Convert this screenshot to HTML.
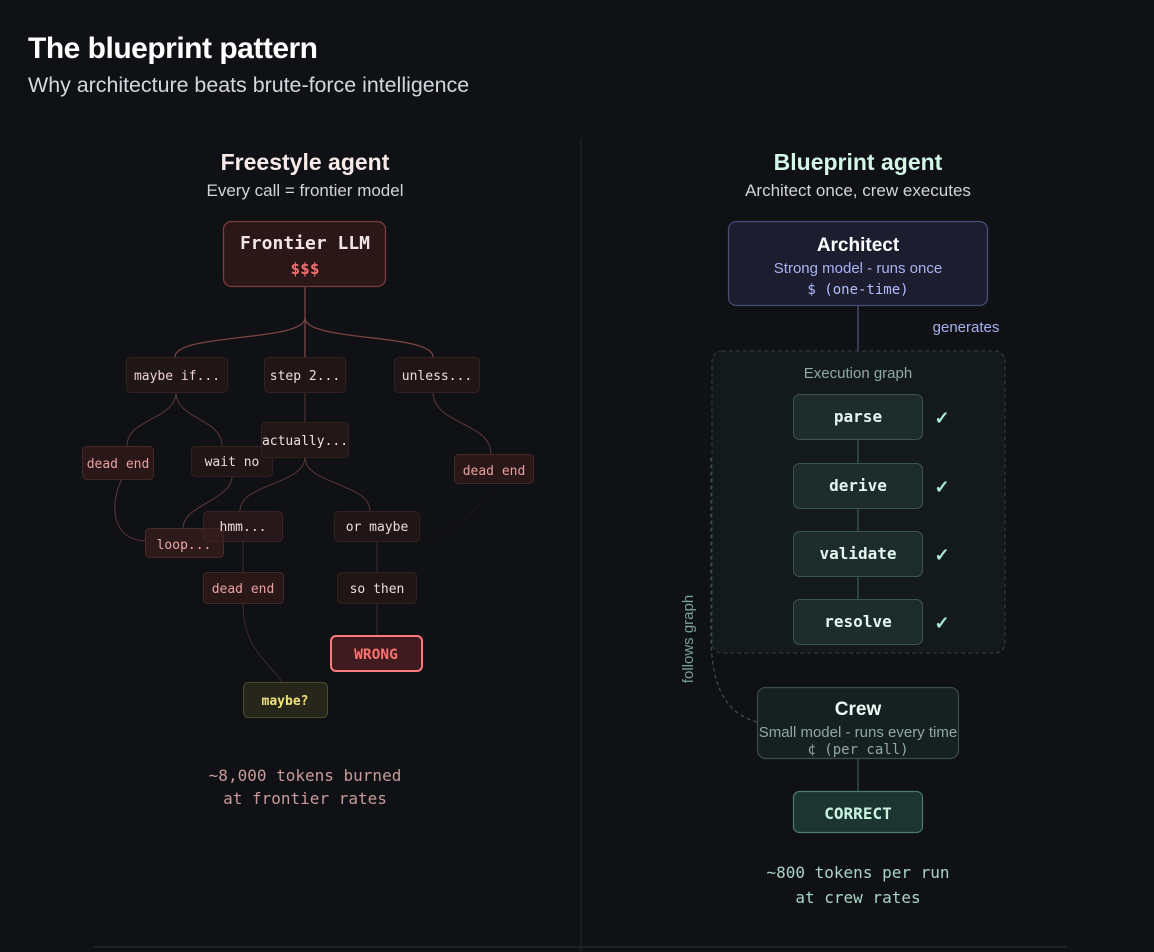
<!DOCTYPE html>
<html><head><meta charset="utf-8"><style>
html,body{margin:0;padding:0;background:#0f1115;}
svg{display:block;}
.sans{font-family:"Liberation Sans",sans-serif;}
.mono{font-family:"DejaVu Sans Mono","Liberation Mono",monospace;}
</style></head><body>
<svg width="1154" height="952" viewBox="0 0 1154 952" xmlns="http://www.w3.org/2000/svg">
<rect width="1154" height="952" fill="#0f1115"/>
<!-- header -->
<text x="28" y="58" class="sans" font-size="30" font-weight="bold" fill="#ffffff" letter-spacing="-0.5">The blueprint pattern</text>
<text x="28" y="92" class="sans" font-size="21.4" fill="#d4d8de">Why architecture beats brute-force intelligence</text>

<!-- divider -->
<line x1="581" y1="138" x2="581" y2="952" stroke="#24272d" stroke-width="1"/>
<line x1="94" y1="947" x2="1067" y2="947" stroke="#1e2126" stroke-width="2"/>

<!-- LEFT COLUMN -->
<text x="305" y="170" text-anchor="middle" class="sans" font-size="23" font-weight="bold" fill="#fbeaea">Freestyle agent</text>
<text x="305" y="196" text-anchor="middle" class="sans" font-size="17" fill="#d0d4da">Every call = frontier model</text>

<!-- connectors -->
<g fill="none" stroke="#7a4444" stroke-width="1.3">
<path d="M305,287 L305,357"/>
<path d="M305,318 C305,342 175,333 175,357"/>
<path d="M305,318 C305,342 433,333 433,357"/>
</g>
<g fill="none" stroke="#553535" stroke-width="1.1">
<path d="M176,392 C176,420 127,418 127,446"/>
<path d="M176,392 C176,420 222,418 222,446"/>
<path d="M305,392 L305,422"/>
<path d="M433,392 C433,425 491,422 491,454"/>
<path d="M305,457 C305,485 240,483 240,511"/>
<path d="M305,457 C305,485 370,483 370,511"/>
<path d="M122,479 C110,502 110,540 146,541"/>
<path d="M232,476 C232,500 183,505 183,528"/>
</g>
<g fill="none" stroke="#3e2c2c" stroke-width="1">
<path d="M243,541 L243,572"/>
<path d="M243,603 C243,650 268,660 282,682"/>
<path d="M377,541 L377,572"/>
<path d="M377,603 L377,635"/>
<path d="M490,493 C470,518 447,536 420,540" stroke="#201d20" stroke-dasharray="2 3"/>
</g>

<!-- Frontier LLM box -->
<rect x="223.5" y="221.5" width="162" height="65" rx="8" fill="#2b1718" stroke="#7a3c3c" stroke-width="1.3"/>
<text x="305" y="249" text-anchor="middle" class="mono" font-size="18" font-weight="bold" fill="#f0e4e4">Frontier LLM</text>
<text x="305" y="274" text-anchor="middle" class="mono" font-size="16" font-weight="bold" fill="#f26d6d">$$$</text>

<!-- small boxes -->
<g class="mono" font-size="13" text-anchor="middle">
<rect x="126.5" y="357.5" width="101" height="35" rx="4" fill="#201617" stroke="#33201f"/>
<text x="177" y="380" fill="#efd2d2">maybe if...</text>
<rect x="264.5" y="357.5" width="81" height="35" rx="4" fill="#201617" stroke="#33201f"/>
<text x="305" y="380" fill="#eee0e0">step 2...</text>
<rect x="394.5" y="357.5" width="85" height="35" rx="4" fill="#201617" stroke="#33201f"/>
<text x="437" y="380" fill="#eee0e0">unless...</text>

<rect x="82.5" y="446.5" width="71" height="33" rx="4" fill="#2a1819" stroke="#442727"/>
<text x="118" y="468" fill="#e8a0a0">dead end</text>
<rect x="191.5" y="446.5" width="81" height="30" rx="4" fill="#201617" stroke="#33201f"/>
<text x="232" y="466" fill="#eadada">wait no</text>
<rect x="261.5" y="422.5" width="87" height="35" rx="4" fill="#241819" fill-opacity="0.92" stroke="#33201f"/>
<text x="305" y="445" fill="#f0e0e0">actually...</text>
<rect x="454.5" y="454.5" width="79" height="29" rx="4" fill="#2a1819" stroke="#442727"/>
<text x="494" y="475" fill="#e8a0a0">dead end</text>

<rect x="145.5" y="528.5" width="78" height="29" rx="4" fill="#2e1a1b" stroke="#4a2a2a"/>
<text x="184" y="549" fill="#eba8a8">loop...</text>
<rect x="203.5" y="511.5" width="79" height="30" rx="4" fill="#3a1e20" fill-opacity="0.55" stroke="#3a2323"/>
<text x="243" y="531" fill="#efdcdc">hmm...</text>
<rect x="334.5" y="511.5" width="85" height="30" rx="4" fill="#201617" stroke="#33201f"/>
<text x="377" y="531" fill="#efdcdc">or maybe</text>

<rect x="203.5" y="572.5" width="80" height="31" rx="4" fill="#2a1819" stroke="#442727"/>
<text x="243" y="593" fill="#e8a0a0">dead end</text>
<rect x="337.5" y="572.5" width="79" height="31" rx="4" fill="#201617" stroke="#33201f"/>
<text x="377" y="593" fill="#efdcdc">so then</text>
</g>

<rect x="331" y="636" width="91" height="35" rx="5" fill="#3d1b1e" stroke="#ff7b7b" stroke-width="2"/>
<text x="376" y="659" text-anchor="middle" class="mono" font-size="14.5" font-weight="bold" fill="#ff7272">WRONG</text>

<rect x="243.5" y="682.5" width="84" height="35" rx="5" fill="#26261a" stroke="#4e4c30"/>
<text x="285" y="705" text-anchor="middle" class="mono" font-size="13" font-weight="bold" fill="#f3e27a">maybe?</text>

<text x="305" y="781" text-anchor="middle" class="mono" font-size="16" fill="#c99a9a">~8,000 tokens burned</text>
<text x="305" y="804" text-anchor="middle" class="mono" font-size="16" fill="#c99a9a">at frontier rates</text>

<!-- RIGHT COLUMN -->
<text x="858" y="170" text-anchor="middle" class="sans" font-size="23" font-weight="bold" fill="#d4f7e8">Blueprint agent</text>
<text x="858" y="196" text-anchor="middle" class="sans" font-size="17" fill="#d0d4da">Architect once, crew executes</text>

<rect x="728.5" y="221.5" width="259" height="84" rx="8" fill="#1c1e30" stroke="#484d78" stroke-width="1.3"/>
<text x="858" y="251" text-anchor="middle" class="sans" font-size="19" font-weight="bold" fill="#ffffff">Architect</text>
<text x="858" y="273" text-anchor="middle" class="sans" font-size="15" fill="#aab2f2">Strong model - runs once</text>
<text x="858" y="294" text-anchor="middle" class="mono" font-size="14" fill="#b4bcff">$ (one-time)</text>

<line x1="858" y1="306" x2="858" y2="351" stroke="#4a5078" stroke-width="1.3"/>
<text x="966" y="332" text-anchor="middle" class="sans" font-size="15" fill="#a8b0f0">generates</text>

<!-- execution graph -->
<rect x="712" y="351" width="293" height="302" rx="10" fill="#141a1c" stroke="#334040" stroke-width="1" stroke-dasharray="4 3"/>
<text x="858" y="378" text-anchor="middle" class="sans" font-size="15" fill="#8eaaa2">Execution graph</text>

<g stroke="#3c5454" stroke-width="1.3">
<line x1="858" y1="439" x2="858" y2="463"/>
<line x1="858" y1="508" x2="858" y2="531"/>
<line x1="858" y1="576" x2="858" y2="599"/>
</g>
<g class="mono" font-size="16" font-weight="bold" text-anchor="middle" fill="#dff7ee">
<rect x="793.5" y="394.5" width="129" height="45" rx="6" fill="#1f2c2c" stroke="#3c5454"/>
<text x="858" y="422">parse</text>
<rect x="793.5" y="463.5" width="129" height="45" rx="6" fill="#1f2c2c" stroke="#3c5454"/>
<text x="858" y="491">derive</text>
<rect x="793.5" y="531.5" width="129" height="45" rx="6" fill="#1f2c2c" stroke="#3c5454"/>
<text x="858" y="559">validate</text>
<rect x="793.5" y="599.5" width="129" height="45" rx="6" fill="#1f2c2c" stroke="#3c5454"/>
<text x="858" y="627">resolve</text>
</g>
<g class="sans" font-size="18" font-weight="bold" text-anchor="middle" fill="#a8ecd6">
<text x="942" y="424">✓</text>
<text x="942" y="493">✓</text>
<text x="942" y="561">✓</text>
<text x="942" y="629">✓</text>
</g>

<!-- follows graph -->
<path d="M757,722 C728,714 712,690 711,640 L711,455" fill="none" stroke="#3e504c" stroke-width="1.2" stroke-dasharray="4 3"/>
<text x="0" y="0" transform="translate(693,639) rotate(-90)" text-anchor="middle" class="sans" font-size="15" fill="#78a292">follows graph</text>

<!-- crew -->
<rect x="757.5" y="687.5" width="201" height="71" rx="8" fill="#172020" stroke="#3a4c4a" stroke-width="1.2"/>
<text x="858" y="715" text-anchor="middle" class="sans" font-size="19" font-weight="bold" fill="#eafaf4">Crew</text>
<text x="858" y="737" text-anchor="middle" class="sans" font-size="15" fill="#8fa9a1">Small model - runs every time</text>
<text x="858" y="754" text-anchor="middle" class="mono" font-size="14" fill="#8fa9a1">¢ (per call)</text>

<line x1="858" y1="759" x2="858" y2="791" stroke="#3c5454" stroke-width="1.3"/>
<rect x="793.5" y="791.5" width="129" height="41" rx="6" fill="#1d3530" stroke="#4d7c6c" stroke-width="1.2"/>
<text x="858" y="819" text-anchor="middle" class="mono" font-size="16" font-weight="bold" fill="#c9f3e1">CORRECT</text>

<text x="858" y="878" text-anchor="middle" class="mono" font-size="16" fill="#a9d6c4">~800 tokens per run</text>
<text x="858" y="903" text-anchor="middle" class="mono" font-size="16" fill="#a9d6c4">at crew rates</text>
</svg>
</body></html>
